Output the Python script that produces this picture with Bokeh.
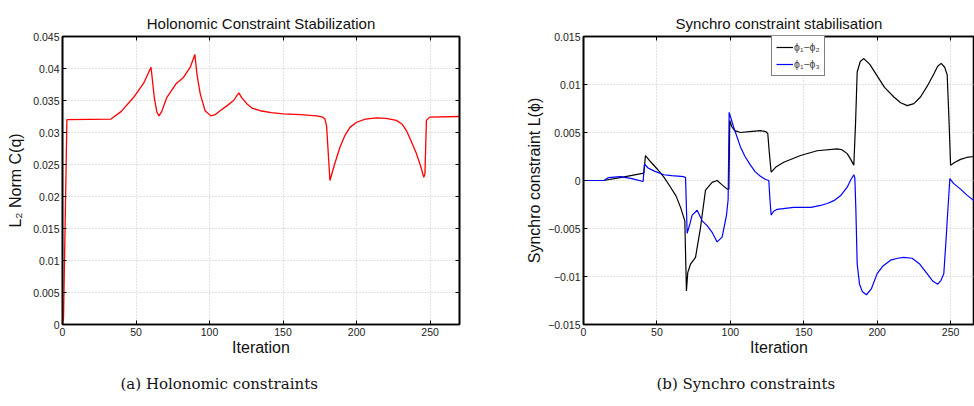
from bokeh.plotting import figure
from bokeh.models import FixedTicker, Range1d, LinearAxis, Legend, LegendItem, Title
from bokeh.layouts import row
from bokeh.embed import file_html
from bokeh.resources import INLINE

# ---------------- data ----------------
holo_iter = [0, 0.7, 3, 33, 40, 48.4, 55.2, 60.2, 62.4, 64.2, 65.6, 67.5, 71, 77.2, 82.3, 86.9, 90,
             91.5, 93.7, 97, 100.9, 104, 107.2, 112, 116.3, 119.9, 122, 125.3, 129, 134.4, 142,
             150.2, 162, 172.8, 177, 178.5, 179.6, 181.9, 185, 188.7, 192, 195.5, 200, 206, 213.6,
             220, 227.1, 231, 233.9, 237, 240.7, 243.5, 245.7, 246.5, 247.5, 249.7, 270]
holo_val = [0, 0.001, 0.032, 0.0321, 0.0333, 0.0355, 0.0377, 0.0402, 0.0355, 0.0332, 0.0326, 0.0333,
            0.0355, 0.0376, 0.0386, 0.0402, 0.0422, 0.039, 0.036, 0.0334, 0.0326, 0.0328, 0.0334,
            0.0342, 0.035, 0.0362, 0.0354, 0.0345, 0.0338, 0.0334, 0.0331, 0.0329, 0.0328, 0.0326,
            0.0324, 0.0321, 0.031, 0.0225, 0.025, 0.0277, 0.0295, 0.0308, 0.0316, 0.0321, 0.0323,
            0.0322, 0.0319, 0.0313, 0.0303, 0.0287, 0.0267, 0.0248, 0.023, 0.0235, 0.0319, 0.0324,
            0.0325]

sync12_iter = [0, 13.6, 25, 41.1, 42.2, 46, 50.2, 55, 59.3, 63, 66.1, 69, 70.1, 71, 72.9, 76.3,
               79.7, 83.1, 87.6, 91, 94, 97.9, 99, 99.6, 101, 103, 106.9, 113, 120.5, 124, 125.5,
               126.5, 127.8, 131, 136.4, 147.8, 159.1, 172.8, 176, 179.6, 182, 184.1, 185.3, 186.4,
               188.5, 190.9, 195, 200, 205, 211.4, 216, 220.5, 225, 229.5, 234, 238.6, 241.2, 243.6,
               246, 247.7, 249, 250, 253, 256.8, 261, 265.8, 270]
sync12_val = [0, 0, 0.0003, 0.00076, 0.0026, 0.0019, 0.0012, 0.0003, -0.0007, -0.0016, -0.0028,
              -0.0042, -0.0115, -0.0096, -0.0087, -0.008, -0.0049, -0.001, -0.0002, 0, -0.0004,
              -0.0009, -0.0009, 0.00625, 0.0056, 0.0052, 0.005, 0.0051, 0.0052, 0.0051, 0.0049,
              0.003, 0.00087, 0.0014, 0.0019, 0.0026, 0.0031, 0.0033, 0.0032, 0.0028, 0.0022, 0.0016,
              0.006, 0.0113, 0.0124, 0.0127, 0.0121, 0.0109, 0.0097, 0.0087, 0.0081, 0.0078, 0.008,
              0.0087, 0.0098, 0.0111, 0.0119, 0.0122, 0.0118, 0.011, 0.006, 0.0016, 0.0019, 0.0022,
              0.0024, 0.0025, 0.0025]

sync13_iter = [0, 14, 17, 25, 33, 40.6, 41.5, 44, 47.9, 54.7, 60, 68.3, 69.5, 70.6, 72.5, 74, 77.4,
               80.8, 84.2, 87.6, 91, 94.4, 97.4, 98.5, 99.2, 102.4, 106.9, 110, 113.7, 117, 120.5,
               124, 126.2, 127, 127.8, 129.5, 131.9, 143.2, 155, 161.4, 166, 170.5, 175, 179.6,
               181.8, 184.1, 184.8, 185.5, 186.4, 188, 190, 192.7, 196, 200, 204, 209.1, 214, 218.1,
               223.8, 229, 234, 238, 241.3, 243.5, 245.4, 247, 247.7, 249.5, 252, 256.8, 261, 265.8,
               270]
sync13_val = [0, 0, 0.0003, 0.0004, 0.0002, -0.0001, 0.0017, 0.0013, 0.001, 0.0006, 0.0005, 0.0004,
              0.0003, -0.0055, -0.0045, -0.0036, -0.0031, -0.0042, -0.0047, -0.0054, -0.0064,
              -0.0059, -0.0036, -0.002, 0.0071, 0.0055, 0.0035, 0.0025, 0.0016, 0.0009, 0.00045,
              0.0001, 0, -0.002, -0.0036, -0.0032, -0.003, -0.0028, -0.0028, -0.0026, -0.0024,
              -0.0021, -0.0016, -0.0007, 0, 0.0006, 0.0003, -0.003, -0.0087, -0.0108, -0.0116,
              -0.0119, -0.0113, -0.0097, -0.0089, -0.0083, -0.0081, -0.008, -0.0081, -0.0087,
              -0.0097, -0.0105, -0.0108, -0.0104, -0.0097, -0.006, -0.0042, 0.0002, -0.0003,
              -0.0009, -0.0015, -0.0021, -0.0024]

x_ticks = [0, 50, 100, 150, 200, 250]
x_tick_labels = ["0", "50", "100", "150", "200", "250"]
holo_y_ticks = [0, 0.005, 0.01, 0.015, 0.02, 0.025, 0.03, 0.035, 0.04, 0.045]
holo_y_tick_labels = ["0", "0.005", "0.01", "0.015", "0.02", "0.025", "0.03", "0.035", "0.04", "0.045"]
sync_y_ticks = [-0.015, -0.01, -0.005, 0, 0.005, 0.01, 0.015]
sync_y_tick_labels = ["\u22120.015", "\u22120.01", "\u22120.005", "0", "0.005", "0.01", "0.015"]

FONT = "Liberation Sans"


def style_axis(ax, ticks, labels, show_labels=True):
    ax.ticker = FixedTicker(ticks=ticks)
    ax.axis_line_color = "black"
    ax.axis_line_width = 1.6
    ax.major_tick_line_color = "black"
    ax.major_tick_line_width = 1
    ax.major_tick_in = 4
    ax.major_tick_out = 0
    ax.minor_tick_line_color = None
    if show_labels:
        ax.major_label_overrides = {t: l for t, l in zip(ticks, labels)}
        ax.major_label_text_font = FONT
        ax.major_label_text_color = "#222222"
        ax.major_label_text_font_size = "10.5px"
        ax.major_label_standoff = 3
    else:
        ax.major_label_text_color = None
        ax.major_label_text_font_size = "1px"
        ax.major_label_standoff = 0
    ax.axis_label_text_font = FONT
    ax.axis_label_text_font_style = "normal"
    ax.axis_label_text_font_size = "16px"
    ax.axis_label_text_color = "#111111"


def make_fig(width, mb_left, mb_right, x_end, y_start, y_end, yticks, ylabels, title, ylabel,
             right_axis, y_label_standoff):
    p = figure(width=width, height=406, output_backend="svg", toolbar_location=None,
               x_range=Range1d(0, x_end), y_range=Range1d(y_start, y_end),
               min_border_left=mb_left, min_border_right=mb_right,
               min_border_top=36, min_border_bottom=82,
               background_fill_color="white", border_fill_color="white")
    p.title.text = title
    p.title.text_font = FONT
    p.title.text_font_size = "15px"
    p.title.text_font_style = "normal"
    p.title.text_color = "#111111"
    p.title.align = "center"
    p.outline_line_color = "black"
    p.outline_line_width = 1.6
    style_axis(p.xaxis[0], x_ticks, x_tick_labels)
    style_axis(p.yaxis[0], yticks, ylabels)
    p.xaxis[0].axis_label = "Iteration"
    p.xaxis[0].axis_label_standoff = 0
    p.yaxis[0].axis_label = ylabel
    p.yaxis[0].axis_label_standoff = y_label_standoff
    top = LinearAxis()
    style_axis(top, x_ticks, x_tick_labels, show_labels=False)
    p.add_layout(top, "above")
    if right_axis:
        ra = LinearAxis()
        style_axis(ra, yticks, ylabels, show_labels=False)
        p.add_layout(ra, "right")
    for g in (p.xgrid[0], p.ygrid[0]):
        g.grid_line_color = "#c4c4c4"
        g.grid_line_dash = "1 2"
        g.grid_line_width = 1
    return p


def add_caption(p, text, offset):
    cap = Title(text=text, align="left", offset=offset, standoff=28,
                text_font="DejaVu Serif", text_font_size="15px",
                text_font_style="normal", text_color="#111111")
    p.add_layout(cap, "below")


p1 = make_fig(500, 62, 41, 270, 0, 0.045, holo_y_ticks, holo_y_tick_labels,
              "Holonomic Constraint Stabilization", "L\u2082 Norm C(q)", True, 6)
p1.line(holo_iter, holo_val, line_color="#ff0000", line_width=1.3)

p2 = make_fig(474, 83, 0, 266.3, -0.015, 0.015, sync_y_ticks, sync_y_tick_labels,
              "Synchro constraint stabilisation", "Synchro constraint L(\u03d5)", False, 2)
r12 = p2.line(sync12_iter, sync12_val, line_color="black", line_width=1.2)
r13 = p2.line(sync13_iter, sync13_val, line_color="#0000ff", line_width=1.2)

leg = Legend(items=[LegendItem(label="\u03d5\u2081\u2212\u03d5\u2082", renderers=[r12]),
                    LegendItem(label="\u03d5\u2081\u2212\u03d5\u2083", renderers=[r13])],
             location=(188, 248))
leg.border_line_color = "black"
leg.border_line_width = 1.2
leg.background_fill_color = "white"
leg.background_fill_alpha = 1
leg.label_text_font = FONT
leg.label_text_font_size = "10.5px"
leg.label_standoff = 1
leg.glyph_width = 17
leg.glyph_height = 14
leg.spacing = 3
leg.padding = 4
leg.margin = 0
p2.add_layout(leg, "center")

add_caption(p1, "(a) Holonomic constraints", 58)
add_caption(p2, "(b) Synchro constraints", 73)

layout = row(p1, p2, spacing=0)
open("out.html", "w").write(file_html(layout, INLINE))
